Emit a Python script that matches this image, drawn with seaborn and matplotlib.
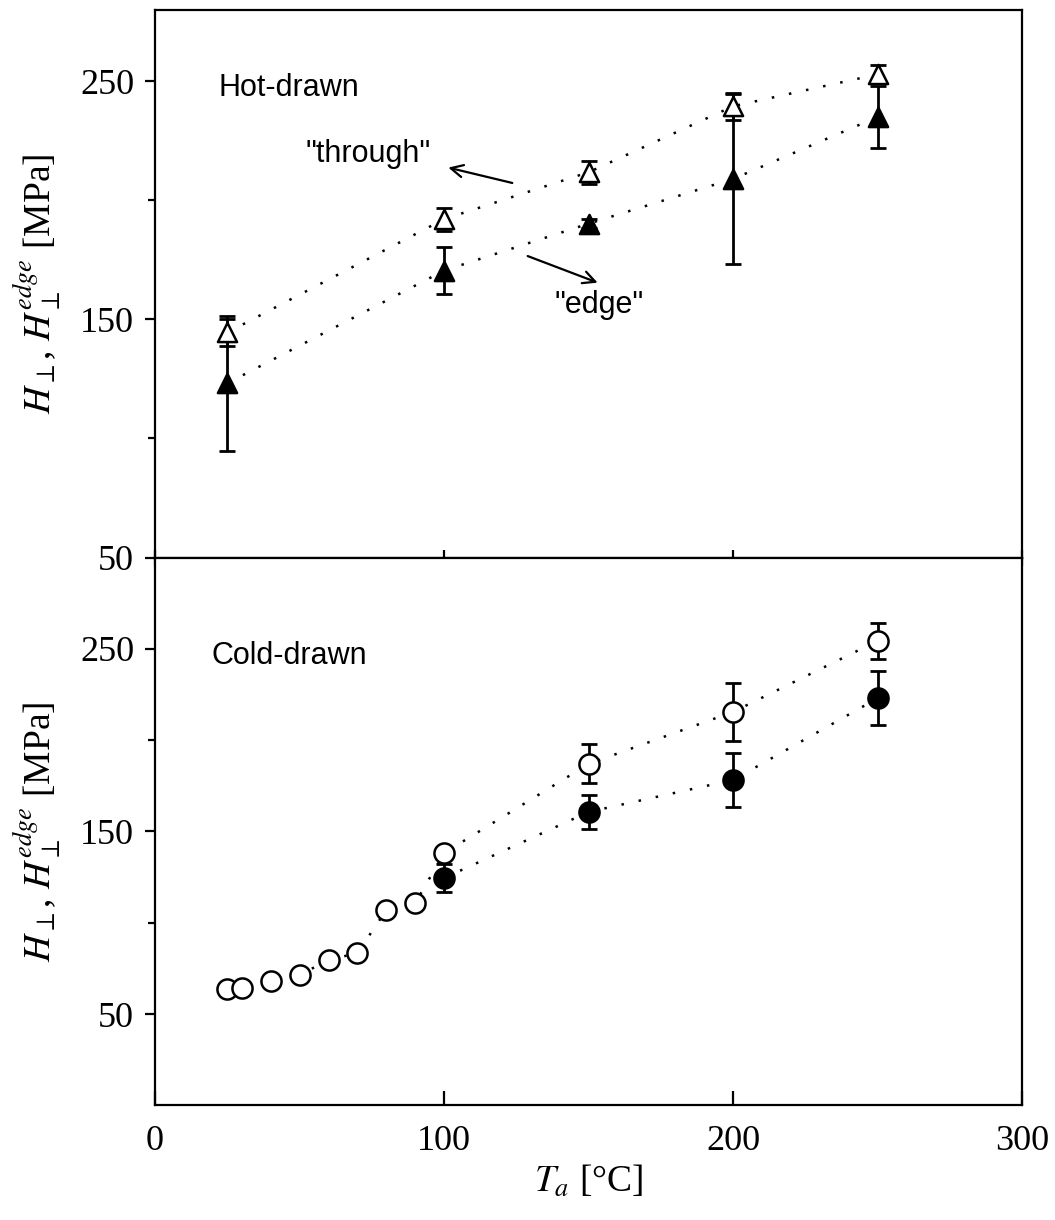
import numpy as np
import matplotlib
matplotlib.use("Agg")
import matplotlib.pyplot as plt
import seaborn as sns

# hot-drawn samples (triangles)
T_hot = [25, 100, 150, 200, 250]
hot_through = [144.5, 192.1, 211.8, 239.5, 252.9]
hot_through_err = [5.5, 4.8, 4.8, 5.6, 3.8]
hot_edge = [123.2, 170.5, 190.2, 209.0, 235.0]
hot_edge_err = [28.4, 9.8, 2.0, 35.6, 13.0]

# cold-drawn samples (circles)
T_cold = [25, 30, 40, 50, 60, 70, 80, 90, 100, 150, 200, 250]
cold_through = [63.7, 64.2, 68.0, 71.4, 79.6, 83.4, 107.0, 110.8, 138.2, 187.0, 215.5, 254.4]
T_cold_err = [100, 150, 200, 250]
cold_through_err = [2.5, 10.7, 15.9, 10.0]
cold_edge = [124.5, 160.7, 178.2, 223.0]
cold_edge_err = [7.4, 9.3, 15.0, 14.8]

sns.set_theme(style="ticks")
plt.rcParams['font.family'] = ['Liberation Serif', 'DejaVu Serif']
plt.rcParams['mathtext.fontset'] = 'stix'
plt.rcParams['axes.linewidth'] = 1.6
for k in ['axes.edgecolor', 'text.color', 'axes.labelcolor', 'xtick.color', 'ytick.color']:
    plt.rcParams[k] = 'black'

fig, (ax1, ax2) = plt.subplots(2, 1, sharex=True, figsize=(10.55, 12.2), dpi=100)
fig.subplots_adjust(left=0.147, right=0.969, top=0.992, bottom=0.094, hspace=0)

dot = (0, (1, 6))
eb = dict(fmt='none', ecolor='black', elinewidth=2.0, capsize=5.5, capthick=2.0, zorder=2)


def series(ax, x, y, marker, face, size, err_x=None, err=None, err_y=None):
    sns.lineplot(x=x, y=y, ax=ax, color='black', lw=1.8, linestyle=dot,
                 sort=False, estimator=None, zorder=1)
    if err is not None:
        ax.errorbar(err_x, err_y, yerr=err, **eb)
    sns.scatterplot(x=x, y=y, ax=ax, marker=marker, s=size, color=face,
                    edgecolor='black', linewidth=1.8, zorder=3)


# top panel
series(ax1, T_hot, hot_through, '^', 'white', 190, T_hot, hot_through_err, hot_through)
series(ax1, T_hot, hot_edge, '^', 'black', 190, T_hot, hot_edge_err, hot_edge)

# bottom panel
series(ax2, T_cold, cold_through, 'o', 'white', 210, T_cold_err, cold_through_err, cold_through[-4:])
series(ax2, T_cold_err, cold_edge, 'o', 'black', 210, T_cold_err, cold_edge_err, cold_edge)

ax1.set_ylim(50, 280)
ax2.set_ylim(0, 300)
ax2.set_xlim(0, 300)

for ax in (ax1, ax2):
    ax.set_yticks([50, 150, 250])
    ax.set_yticks([100, 200], minor=True)
    ax.tick_params(axis='y', which='major', direction='out', length=7, width=1.6, labelsize=26, pad=8)
    ax.tick_params(axis='y', which='minor', direction='out', length=5, width=1.6)
    ax.set_ylabel(r'$H_{\perp}$, $H_{\perp}^{edge}$ [MPa]', fontsize=27, labelpad=12)
    for s in ax.spines.values():
        s.set_visible(True)

ax2.set_xticks([0, 100, 200, 300])
ax1.tick_params(axis='x', direction='inout', length=12, width=1.6, labelbottom=False)
ax2.tick_params(axis='x', direction='in', length=10, width=1.6, labelsize=26, pad=14)
ax1.set_xlabel('')
ax2.set_xlabel(r'$T_a$ [°C]', fontsize=27, labelpad=4)

sans = ['Liberation Sans', 'DejaVu Sans']
ax1.text(22, 247, 'Hot-drawn', family=sans, fontsize=22, va='center')
ax2.text(19.5, 246, 'Cold-drawn', family=sans, fontsize=22, va='center')

ax1.annotate('"through"', xy=(100.5, 214), xytext=(52, 219.5), family=sans, fontsize=22,
             va='center', ha='left', annotation_clip=False)
ax1.annotate('', xy=(100.5, 214), xytext=(124.5, 207),
             arrowprops=dict(arrowstyle='->', color='black', lw=1.6, mutation_scale=22))
ax1.text(138, 156, '"edge"', family=sans, fontsize=22, va='center', ha='left')
ax1.annotate('', xy=(154, 165), xytext=(128, 177),
             arrowprops=dict(arrowstyle='->', color='black', lw=1.6, mutation_scale=22))

fig.savefig('out.png', dpi=100)
